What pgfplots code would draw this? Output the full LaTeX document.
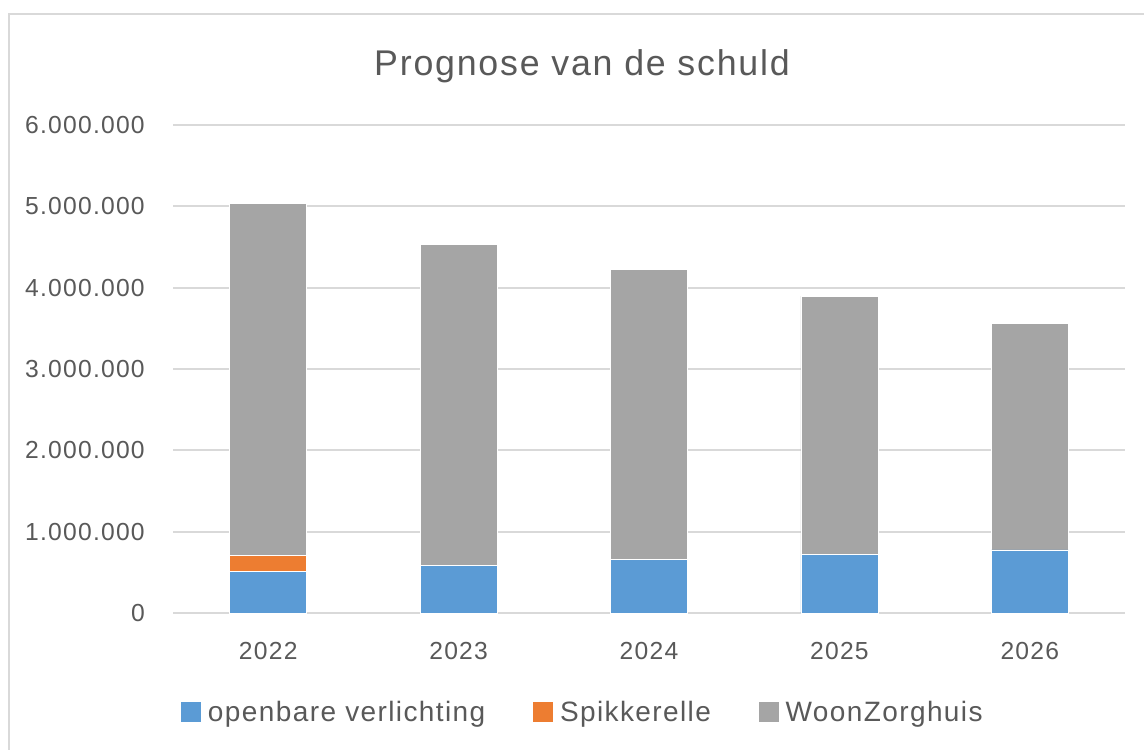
\documentclass[border=0pt]{standalone}
\usepackage{pgfplots}
\pgfplotsset{compat=1.18}
\usepackage{fontspec}
\setmainfont{Liberation Sans}[LetterSpace=5]
\definecolor{cblue}{HTML}{5B9BD5}
\definecolor{corange}{HTML}{ED7D31}
\definecolor{cgray}{HTML}{A5A5A5}
\definecolor{gridc}{HTML}{D9D9D9}
\definecolor{txt}{HTML}{595959}
\begin{document}
\begin{tikzpicture}
\useasboundingbox (0pt,0pt) rectangle (858pt,561.75pt);
\fill[white] (0pt,0pt) rectangle (858pt,561.75pt);
\draw[gridc, line width=1.5pt] (6.75pt,551.25pt) rectangle (880pt,-20pt);
\node[txt, font=\fontsize{26.8}{30}\selectfont] at (436.5pt,512.25pt) {Prognose van de schuld};
\begin{axis}[
  at={(129.75pt,102pt)}, anchor=south west,
  scale only axis, width=714pt, height=366pt,
  xmin=-0.5, xmax=4.5, ymin=0, ymax=6000000,
  ybar stacked, bar width=57.75pt,
  axis line style={draw=none},
  major tick length=0pt,
  xtick={0,1,2,3,4}, xticklabels={2022,2023,2024,2025,2026},
  ytick={0,1000000,2000000,3000000,4000000,5000000,6000000},
  scaled y ticks=false,
  yticklabel={\pgfmathprintnumber[fixed,1000 sep={.},assume math mode=true]{\tick}},
  xmajorgrids=false, ymajorgrids=true, grid style={gridc, line width=1.3pt},
  tick label style={txt, font=\fontsize{18.5}{22}\selectfont},
  yticklabel style={anchor=east, inner sep=0pt, xshift=-21pt},
  xticklabel style={anchor=base, inner sep=0pt, yshift=-34.5pt},
  legend style={at={(0.431,-0.203)}, anchor=center, draw=none, fill=none,
    legend columns=3, font=\fontsize{21}{25}\selectfont, text=txt,
    /tikz/every odd column/.append style={column sep=3pt},
    /tikz/every even column/.append style={column sep=34pt},
    inner sep=0pt},
  legend image code/.code={\fill[#1, draw=none] (0pt,-7.5pt) rectangle (15pt,7.5pt);},
  clip=false,
]
\addplot[fill=cblue, draw=white, line width=0.5pt] coordinates {(0,508000) (1,582000) (2,656000) (3,717000) (4,775000)};
\addlegendentry{openbare verlichting}
\addplot[fill=corange, draw=white, line width=0.5pt] coordinates {(0,205000) (1,0) (2,0) (3,0) (4,0)};
\addlegendentry{Spikkerelle}
\addplot[fill=cgray, draw=white, line width=0.5pt] coordinates {(0,4327000) (1,3953000) (2,3564000) (3,3178000) (4,2788000)};
\addlegendentry{WoonZorghuis}
\end{axis}
\end{tikzpicture}
\end{document}
